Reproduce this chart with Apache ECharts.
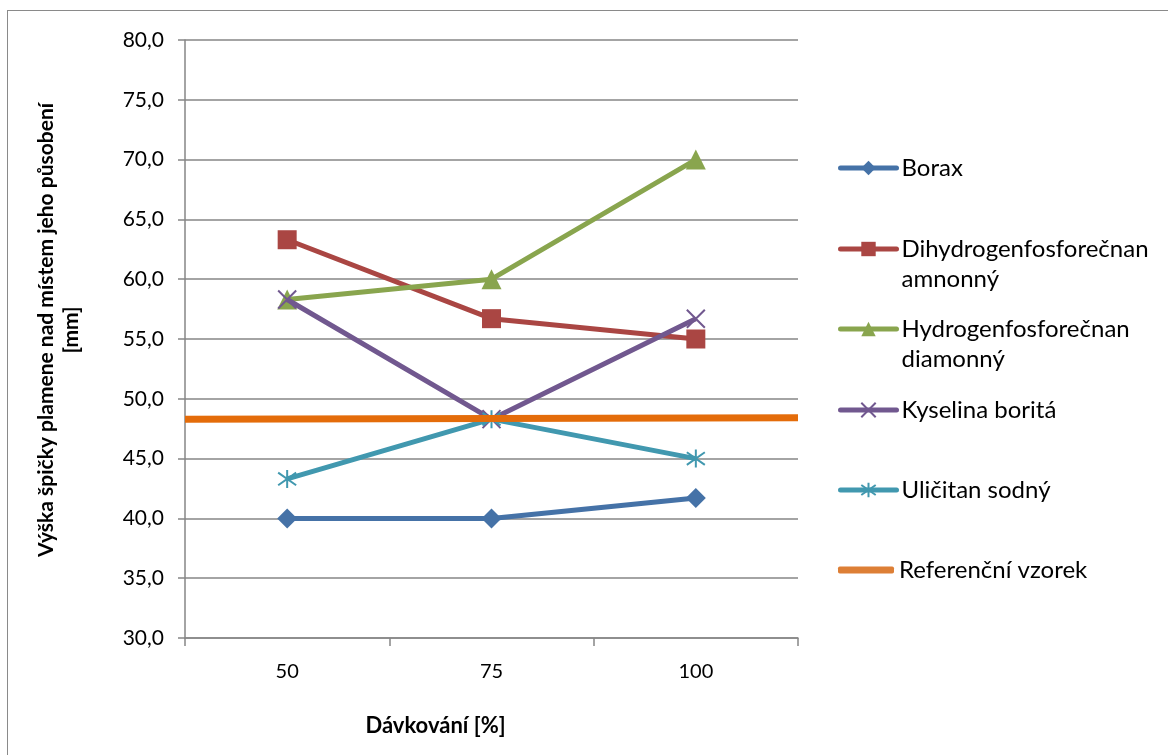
<!DOCTYPE html>
<html>
<head>
<meta charset="utf-8">
<script src="https://cdn.jsdelivr.net/npm/echarts@6/dist/echarts.min.js"></script>
<style>
html,body{margin:0;padding:0;background:#fff;}
#frame{position:absolute;left:7px;top:10px;width:1200px;height:800px;border:1.5px solid #8a8a8a;box-sizing:border-box;}
#chart{position:absolute;left:0;top:0;width:1168px;height:755px;}
</style>
</head>
<body>
<div id="frame"></div>
<div id="chart"></div>
<script>
const categories = ['50', '75', '100'];
const borax = [40.0, 40.0, 41.7];
const dihydro = [63.3, 56.7, 55.0];
const hydro = [58.3, 60.0, 70.0];
const kyselina = [58.3, 48.3, 56.7];
const ulicitan = [43.3, 48.3, 45.0];
const reference = [48.28, 48.42];   // flat reference line across the whole plot
const refSpan = [0, 3];              // plot edges in category units

const FONT = 'Lato';
const chart = echarts.init(document.getElementById('chart'));
const names = ['Borax', 'Dihydrogenfosforečnan\namnonný', 'Hydrogenfosforečnan\ndiamonný', 'Kyselina boritá', 'Uličitan sodný', 'Referenční vzorek'];
const colors = ['#4572A7', '#AA4643', '#89A54E', '#71588F', '#4198AF', '#E46C0A'];
const legendIconCenters = [168, 249, 329, 410, 490, 570];
const twoLine = [false, true, true, false, false, false];
const LH = 30;

const legends = names.map((n, i) => {
  const isRef = i === 5;
  const item = {name: n};
  if (isRef) { item.icon = 'roundRect'; item.itemStyle = {color: '#DD7F36'}; }
  return {
    data: [item],
    // a blank leading line keeps the first text line level with the icon
    formatter: twoLine[i] ? (nm => ' \n' + nm) : (nm => nm),
    left: 838, top: legendIconCenters[i] - (twoLine[i] ? 1.5 * LH : LH / 2), orient: 'vertical', padding: 0,
    itemWidth: 56, itemHeight: isRef ? 7 : 18, itemGap: 0, selectedMode: false,
    lineStyle: {width: 5, cap: 'round'},
    textStyle: {fontFamily: FONT, fontSize: 24, color: '#000', lineHeight: LH}
  };
});

function lineSeries(i, data, symbol, size, extra) {
  return Object.assign({
    name: names[i], type: 'line', data: data, symbol: symbol, symbolSize: size,
    color: colors[i],
    lineStyle: {width: 5, color: colors[i]},
    itemStyle: {color: colors[i]},
    z: 3 + i
  }, extra || {});
}

const crossPath = 'path://M0,0L10,10M10,0L0,10';
const starPath = 'path://M5,0L5,10M0,1.5L10,8.5M10,1.5L0,8.5';

chart.setOption({
  animation: false,
  backgroundColor: 'transparent',
  grid: {left: 185, right: 370, top: 40, bottom: 117},
  legend: legends,
  xAxis: [{
    type: 'category', data: categories, boundaryGap: true,
    name: 'Dávkování [%]', nameLocation: 'middle', nameGap: 77,
    nameTextStyle: {fontFamily: FONT, fontSize: 22, fontWeight: 'bold', color: '#000', padding: [0, 112, 0, 0]},
    axisLine: {lineStyle: {color: '#868686', width: 1.5}},
    axisTick: {show: true, length: 8, inside: false, lineStyle: {color: '#868686', width: 1.5}},
    axisLabel: {fontFamily: FONT, fontSize: 20, color: '#000', margin: 24},
    splitLine: {show: false}
  }, {
    type: 'value', min: refSpan[0], max: refSpan[1], show: false
  }],
  yAxis: {
    type: 'value', min: 30, max: 80, interval: 5,
    name: 'Výška špičky plamene nad místem jeho působení\n[mm]',
    nameLocation: 'middle', nameGap: 101, nameRotate: 90,
    nameTextStyle: {fontFamily: FONT, fontSize: 21, fontWeight: 'bold', color: '#000', lineHeight: 25, padding: [0, 0, 0, 18]},
    axisLine: {show: true, lineStyle: {color: '#868686', width: 1.5}},
    axisTick: {show: true, length: 7, lineStyle: {color: '#868686', width: 1.5}},
    axisLabel: {fontFamily: FONT, fontSize: 21, color: '#000', margin: 21,
      formatter: v => v.toFixed(1).replace('.', ',')},
    splitLine: {lineStyle: {color: '#868686', width: 1.5}}
  },
  series: [
    lineSeries(0, borax, 'diamond', 20),
    lineSeries(1, dihydro, 'rect', 19),
    lineSeries(2, hydro, 'triangle', 20),
    lineSeries(3, kyselina, crossPath, 18, {itemStyle: {color: colors[3], borderColor: colors[3], borderWidth: 2}}),
    lineSeries(4, ulicitan, starPath, 18, {itemStyle: {color: colors[4], borderColor: colors[4], borderWidth: 2}}),
    {
      name: names[5], type: 'line', xAxisIndex: 1, symbol: 'none', color: colors[5],
      data: refSpan.map((x, k) => [x, reference[k]]),
      lineStyle: {width: 7, color: colors[5]}, z: 10
    }
  ]
});
</script>
</body>
</html>
